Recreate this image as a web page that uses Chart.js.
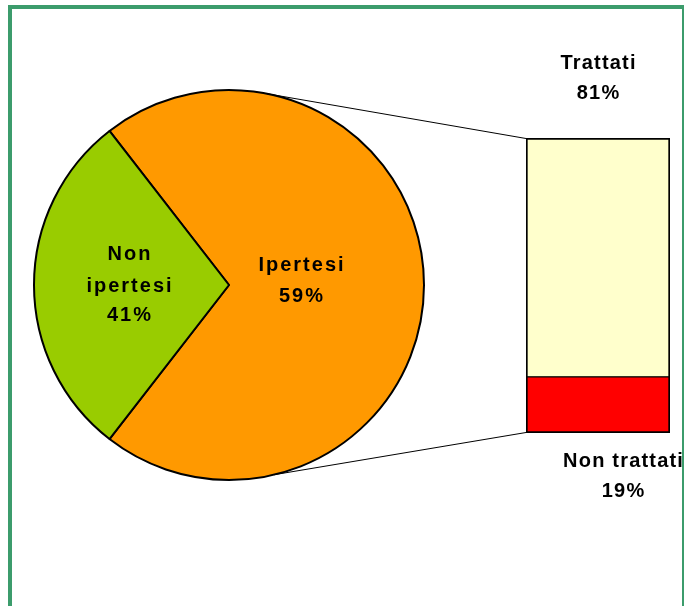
<!DOCTYPE html>
<html><head><meta charset="utf-8">
<script src="https://cdn.jsdelivr.net/npm/chart.js@4/dist/chart.umd.min.js"></script>
<style>
html,body{margin:0;padding:0;background:#fff;width:684px;height:606px;overflow:hidden;}
#frame{position:absolute;left:8px;top:5px;width:678px;height:640px;border:4px solid #3c9c6c;box-sizing:border-box;}
#pie{position:absolute;left:29px;top:85px;}
#bar{position:absolute;left:526px;top:138px;}
#overlay{position:absolute;left:0;top:0;pointer-events:none;}
</style></head>
<body>
<div id="frame"></div>
<canvas id="pie" width="400" height="400"></canvas>
<canvas id="bar" width="144" height="295"></canvas>
<canvas id="overlay" width="684" height="606"></canvas>
<script>
// ---- data ----
const pieLabels = [["Ipertesi"], ["Non", "ipertesi"]];
const pieValues = [71, 29];          // slice sizes as drawn
const piePct = ["59%", "41%"];       // printed percentages
const pieColors = ["#FF9900", "#99CC00"];

const barLabels = ["Non trattati", "Trattati"];
const barValues = [19, 81];
const barPct = ["19%", "81%"];
const barColors = ["#FF0000", "#FFFFCC"];

// ---- pie ----
const pieChart = new Chart(document.getElementById('pie'), {
  type: 'pie',
  data: {
    labels: pieLabels.map(l => l.join(' ')),
    datasets: [{
      data: pieValues,
      backgroundColor: pieColors,
      borderColor: '#000',
      borderWidth: 2
    }]
  },
  options: {
    responsive: false,
    animation: false,
    rotation: -37.8,
    layout: { padding: 4 },
    plugins: { legend: { display: false }, tooltip: { enabled: false } }
  }
});

// ---- bar of pie ----
const barChart = new Chart(document.getElementById('bar'), {
  type: 'bar',
  data: {
    labels: [''],
    datasets: barValues.map((v, i) => ({
      label: barLabels[i],
      data: [v],
      backgroundColor: barColors[i],
      borderColor: '#000',
      borderSkipped: false,
      borderWidth: i === 0 ? {top: 1, bottom: 2, left: 2, right: 2} : {top: 2, bottom: 1, left: 2, right: 2},
      categoryPercentage: 1,
      barPercentage: 1
    }))
  },
  options: {
    responsive: false,
    animation: false,
    layout: { padding: 0 },
    plugins: { legend: { display: false }, tooltip: { enabled: false } },
    scales: {
      x: { display: false, stacked: true },
      y: { display: false, stacked: true, min: 0, max: 100 }
    }
  }
});

// ---- overlay: connector lines and labels ----
const ov = document.getElementById('overlay').getContext('2d');
const pieOff = { left: 29, top: 85 };
const barOff = { left: 526, top: 138 };

const arcs = pieChart.getDatasetMeta(0).data;
const a0 = arcs[0];
const cx = a0.x + pieOff.left, cy = a0.y + pieOff.top, R = a0.outerRadius;

const bars = barChart.getDatasetMeta(0).data;
const bTop = barChart.getDatasetMeta(1).data[0];
const bBot = bars[0];
const barLeft = bTop.x - bTop.width / 2 + barOff.left;
const barTopY = bTop.y + barOff.top;
const barBotY = bBot.base + barOff.top;

// connector lines
ov.strokeStyle = '#000';
ov.lineWidth = 1;
const upAng = -78.7 * Math.PI / 180, loAng = 76.7 * Math.PI / 180;
ov.beginPath();
ov.moveTo(cx + R * Math.cos(upAng), cy + R * Math.sin(upAng));
ov.lineTo(barLeft, barTopY + 0.5);
ov.moveTo(cx + R * Math.cos(loAng), cy + R * Math.sin(loAng));
ov.lineTo(barLeft, barBotY - 0.5);
ov.stroke();

function txt(s, x, y, sp) {
  ov.letterSpacing = sp + 'px';
  ov.fillText(s, x + sp / 2, y);
}
ov.fillStyle = '#000';
ov.font = 'bold 20px "Liberation Sans", Arial, sans-serif';
ov.textAlign = 'center';
ov.textBaseline = 'alphabetic';

// pie labels
const lx0 = cx + 72;
txt(pieLabels[0][0], lx0, cy - 14, 2);
txt(piePct[0], lx0, cy + 17, 2);
const lx1 = cx - 100;
txt(pieLabels[1][0], lx1, cy - 25, 2);
txt(pieLabels[1][1], lx1, cy + 6.5, 2);
txt(piePct[1], lx1, cy + 36, 2);

// bar labels
const bcx = bTop.x + barOff.left;
txt(barLabels[1], bcx, barTopY - 69, 1.2);
txt(barPct[1], bcx, barTopY - 39, 1.2);
txt(barLabels[0], bcx + 25, barBotY + 34, 1.2);
txt(barPct[0], bcx + 25, barBotY + 64, 1.2);
</script>
</body></html>
